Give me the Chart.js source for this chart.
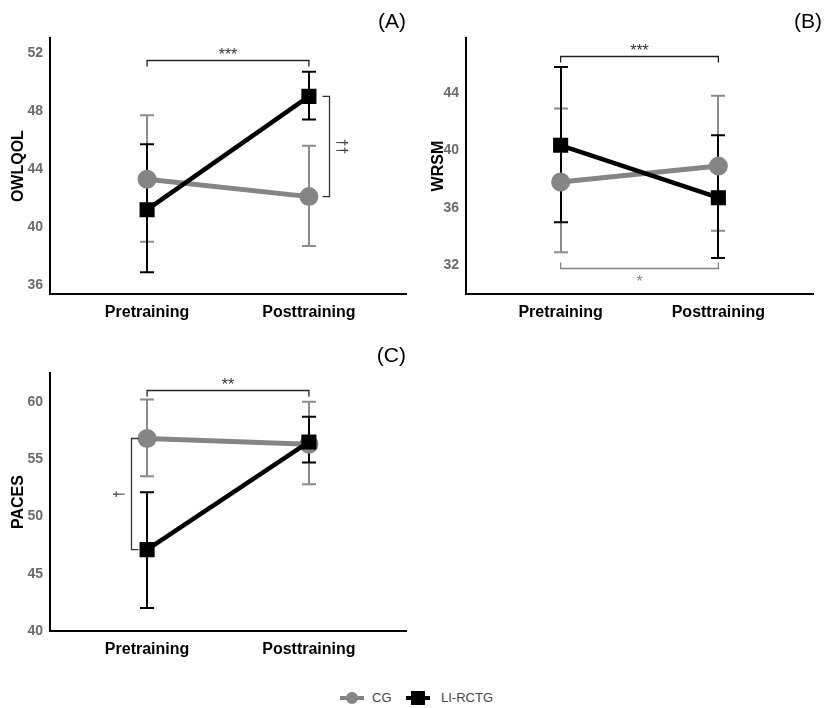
<!DOCTYPE html>
<html>
<head>
<meta charset="utf-8">
<script src="https://cdn.jsdelivr.net/npm/chart.js@4.4.1/dist/chart.umd.min.js"></script>
<style>
  html, body { margin:0; padding:0; background:#fff; }
  #wrap { position:relative; width:825px; height:708px; background:#fff; overflow:hidden; font-family:'Liberation Sans', Arial, sans-serif; }
  canvas { position:absolute; }
  .lg-text { position:absolute; font-size:13px; color:#444; top:690px; line-height:16px; }
  .lg-line { position:absolute; height:4px; width:24px; top:696px; }
  .lg-dot { position:absolute; }
</style>
</head>
<body>
<div id="wrap">
  <canvas id="cA" width="420" height="330" style="left:0;top:0"></canvas>
  <canvas id="cB" width="405" height="330" style="left:420px;top:0"></canvas>
  <canvas id="cC" width="420" height="330" style="left:0;top:340px"></canvas>
  <div class="lg-line" style="left:340px;background:#858585"></div>
  <div class="lg-dot" style="left:346px;top:692px;width:12px;height:12px;border-radius:50%;background:#858585"></div>
  <div class="lg-text" id="lgCG" style="left:372px"></div>
  <div class="lg-line" style="left:406px;background:#000"></div>
  <div class="lg-dot" style="left:411px;top:691px;width:14px;height:14px;background:#000"></div>
  <div class="lg-text" id="lgLI" style="left:441px"></div>
</div>
<script>
// ---------- data ----------
const categories = ['Pretraining', 'Posttraining'];
const seriesNames = ['CG', 'LI-RCTG'];

const owlqolCG      = [43.3, 42.1];
const owlqolCGLow   = [39.0, 38.7];
const owlqolCGHigh  = [47.7, 45.6];
const owlqolLI      = [41.2, 49.0];
const owlqolLILow   = [36.9, 47.4];
const owlqolLIHigh  = [45.7, 50.7];
const owlqolTicks   = [36, 40, 44, 48, 52];

const wrsmCG        = [37.8, 38.9];
const wrsmCGLow     = [32.9, 34.4];
const wrsmCGHigh    = [42.9, 43.8];
const wrsmLI        = [40.35, 36.7];
const wrsmLILow     = [35.0, 32.5];
const wrsmLIHigh    = [45.8, 41.05];
const wrsmTicks     = [32, 36, 40, 44];

const pacesCG       = [56.8, 56.3];
const pacesCGLow    = [53.5, 52.8];
const pacesCGHigh   = [60.2, 60.0];
const pacesLI       = [47.1, 56.5];
const pacesLILow    = [42.0, 54.7];
const pacesLIHigh   = [52.1, 58.7];
const pacesTicks    = [40, 45, 50, 55, 60];

const panelLabels = ['(A)', '(B)', '(C)'];
const axisTitles  = ['OWLQOL', 'WRSM', 'PACES'];
const sigLabels   = { a1:'***', a2:'\u2020\u2020', b1:'***', b2:'*', c1:'**', c2:'\u2020' };

document.getElementById('lgCG').textContent = seriesNames[0];
document.getElementById('lgLI').textContent = seriesNames[1];

// ---------- styles ----------
const GRAY = '#858585';
const BLACK = '#000000';
Chart.defaults.font.family = "'Liberation Sans', Arial, sans-serif";
Chart.defaults.devicePixelRatio = 1;

const errorBarPlugin = {
  id: 'errorBars',
  beforeDatasetsDraw(chart) {
    const ctx = chart.ctx, xs = chart.scales.x, ys = chart.scales.y;
    const sets = chart.data.datasets.slice().sort((a, b) => b.order - a.order);
    sets.forEach(ds => {
      ctx.save();
      ctx.strokeStyle = ds.errColor;
      ctx.lineWidth = 2;
      ds.data.forEach((p, i) => {
        const x = Math.round(xs.getPixelForValue(p.x));
        const yl = ys.getPixelForValue(ds.errLow[i]);
        const yh = ys.getPixelForValue(ds.errHigh[i]);
        ctx.beginPath();
        ctx.moveTo(x, yl); ctx.lineTo(x, yh);
        ctx.moveTo(x - 7, yl); ctx.lineTo(x + 7, yl);
        ctx.moveTo(x - 7, yh); ctx.lineTo(x + 7, yh);
        ctx.stroke();
      });
      ctx.restore();
    });
  }
};

const bracketPlugin = {
  id: 'brackets',
  afterDatasetsDraw(chart, args, opts) {
    const ctx = chart.ctx, xs = chart.scales.x, ys = chart.scales.y;
    (opts.items || []).forEach(b => {
      ctx.save();
      ctx.strokeStyle = b.color;
      ctx.fillStyle = b.textColor || b.color;
      ctx.lineWidth = 1.3;
      if (b.type === 'h') {
        const x0 = xs.getPixelForValue(b.from), x1 = xs.getPixelForValue(b.to);
        const y = Math.round(ys.getPixelForValue(b.at)) + 0.5;
        ctx.beginPath();
        ctx.moveTo(x0, y + b.tick); ctx.lineTo(x0, y); ctx.lineTo(x1, y); ctx.lineTo(x1, y + b.tick);
        ctx.stroke();
        ctx.font = b.font;
        ctx.textAlign = 'center';
        ctx.textBaseline = 'alphabetic';
        ctx.fillText(b.label, (x0 + x1) / 2, y + b.textDy);
      } else {
        const x = Math.round(xs.getPixelForValue(b.x)) + 0.5;
        const y0 = ys.getPixelForValue(b.from), y1 = ys.getPixelForValue(b.to);
        ctx.beginPath();
        ctx.moveTo(x + b.tick, y0); ctx.lineTo(x, y0); ctx.lineTo(x, y1); ctx.lineTo(x + b.tick, y1);
        ctx.stroke();
        ctx.font = b.font;
        ctx.translate(x + b.textDx, (y0 + y1) / 2);
        ctx.rotate(b.rotate);
        ctx.textAlign = 'center';
        ctx.textBaseline = 'middle';
        ctx.fillText(b.label, 0, 0);
      }
      ctx.restore();
    });
  }
};

function pts(vals) { return vals.map((v, i) => ({ x: i, y: v })); }

function makePanel(id, cfg) {
  return new Chart(document.getElementById(id), {
    type: 'line',
    data: {
      datasets: [
        {
          label: seriesNames[0], data: pts(cfg.cg), errLow: cfg.cgLow, errHigh: cfg.cgHigh,
          errColor: '#8c8c8c',
          borderColor: GRAY, backgroundColor: GRAY, borderWidth: 5,
          pointStyle: 'circle', pointRadius: 7, pointHoverRadius: 7, order: 2
        },
        {
          label: seriesNames[1], data: pts(cfg.li), errLow: cfg.liLow, errHigh: cfg.liHigh,
          errColor: BLACK,
          borderColor: BLACK, backgroundColor: BLACK, borderWidth: 4.5,
          pointStyle: 'rect', pointRadius: 7.5, pointHoverRadius: 7.5, order: 1
        }
      ]
    },
    options: {
      responsive: false,
      animation: false,
      devicePixelRatio: 1,
      layout: { padding: { left: 0, right: cfg.padRight, top: 0, bottom: 0 } },
      plugins: {
        legend: { display: false },
        tooltip: { enabled: false },
        title: {
          display: true, text: cfg.panel, align: 'end', color: '#000',
          font: { size: 21, weight: 'normal' }, padding: cfg.titlePad
        },
        brackets: { items: cfg.brackets }
      },
      scales: {
        x: {
          type: 'linear', min: -0.6, max: 1.6,
          grid: { display: false, drawTicks: false },
          border: { display: true, color: '#000', width: 2 },
          afterBuildTicks: s => { s.ticks = [{ value: 0 }, { value: 1 }]; },
          afterFit: s => { s.height = cfg.xHeight; },
          ticks: {
            padding: 9, color: '#000', font: { size: 16, weight: 'bold' },
            maxRotation: 0, autoSkip: false,
            callback: v => categories[v]
          }
        },
        y: {
          type: 'linear', min: cfg.yMin, max: cfg.yMax,
          grid: { display: false, drawTicks: false },
          border: { display: true, color: '#000', width: 2 },
          afterBuildTicks: s => { s.ticks = cfg.ticks.map(v => ({ value: v })); },
          afterFit: s => { s.width = cfg.yWidth; },
          title: {
            display: true, text: cfg.yTitle, color: '#000',
            font: { size: 16, weight: 'bold' }, padding: { top: 9, bottom: 0 }
          },
          ticks: { padding: 7, color: '#6b6b6b', font: { size: 14, weight: 'bold' } }
        }
      }
    },
    plugins: [errorBarPlugin, bracketPlugin]
  });
}

makePanel('cA', {
  panel: panelLabels[0], yTitle: axisTitles[0],
  cg: owlqolCG, cgLow: owlqolCGLow, cgHigh: owlqolCGHigh,
  li: owlqolLI, liLow: owlqolLILow, liHigh: owlqolLIHigh,
  ticks: owlqolTicks, yMin: 35.4, yMax: 53.0,
  padRight: 14, yWidth: 50, xHeight: 36, titlePad: { top: 10, bottom: 3 },
  brackets: [
    { type: 'h', from: 0, to: 1, at: 51.5, tick: 6, label: sigLabels.a1, textDy: -1, color: '#222', textColor: '#333', font: '16px "Liberation Sans", Arial' },
    { type: 'v', x: 1.124, from: owlqolLI[1], to: owlqolCG[1], tick: -7, label: sigLabels.a2, textDx: 11, rotate: Math.PI / 2, color: '#333', textColor: '#333', font: '14px "Liberation Sans", Arial' }
  ]
});

makePanel('cB', {
  panel: panelLabels[1], yTitle: axisTitles[1],
  cg: wrsmCG, cgLow: wrsmCGLow, cgHigh: wrsmCGHigh,
  li: wrsmLI, liLow: wrsmLILow, liHigh: wrsmLIHigh,
  ticks: wrsmTicks, yMin: 30.0, yMax: 47.8,
  padRight: 3, yWidth: 46, xHeight: 36, titlePad: { top: 10, bottom: 3 },
  brackets: [
    { type: 'h', from: 0, to: 1, at: 46.55, tick: 6, label: sigLabels.b1, textDy: -1, color: '#222', textColor: '#333', font: '16px "Liberation Sans", Arial' },
    { type: 'h', from: 0, to: 1, at: 31.8, tick: -6, label: sigLabels.b2, textDy: 18, color: GRAY, textColor: GRAY, font: '16px "Liberation Sans", Arial' }
  ]
});

makePanel('cC', {
  panel: panelLabels[2], yTitle: axisTitles[2],
  cg: pacesCG, cgLow: pacesCGLow, cgHigh: pacesCGHigh,
  li: pacesLI, liLow: pacesLILow, liHigh: pacesLIHigh,
  ticks: pacesTicks, yMin: 40, yMax: 62.5,
  padRight: 14, yWidth: 50, xHeight: 39, titlePad: { top: 4, bottom: 4 },
  brackets: [
    { type: 'h', from: 0, to: 1, at: 61.0, tick: 6, label: sigLabels.c1, textDy: -1, color: '#222', textColor: '#333', font: '16px "Liberation Sans", Arial' },
    { type: 'v', x: -0.1, from: pacesCG[0], to: pacesLI[0], tick: 7, label: sigLabels.c2, textDx: -11, rotate: -Math.PI / 2, color: '#333', textColor: '#333', font: '14px "Liberation Sans", Arial' }
  ]
});
</script>
</body>
</html>
